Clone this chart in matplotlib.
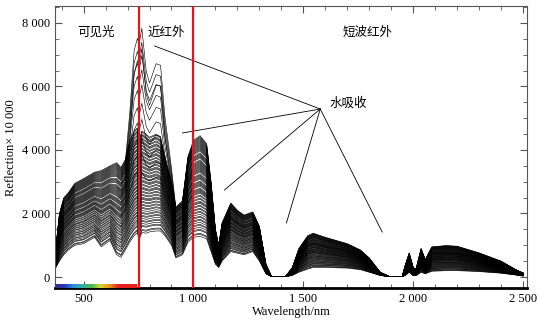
import matplotlib
matplotlib.use('Agg')
import matplotlib.pyplot as plt
import matplotlib.ticker as mticker
from matplotlib.colors import LinearSegmentedColormap
import numpy as np

plt.rcParams['font.family'] = ['Liberation Serif', 'DejaVu Serif']

# key wavelengths (nm)
wavelength = [370, 390, 410, 430, 460, 500, 550, 580, 620, 650,
              670, 690, 710, 730, 745, 752, 765, 785, 800, 830,
              850, 870, 900, 920, 950, 975, 1000, 1030, 1060, 1080,
              1100, 1115, 1130, 1170, 1200, 1230, 1270, 1300, 1330, 1355,
              1420, 1450, 1480, 1520, 1545, 1600, 1700, 1760, 1800, 1850,
              1890, 1950, 1965, 1982, 2000, 2013, 2036, 2055, 2085, 2150,
              2200, 2300, 2400, 2470, 2500]

# lowest spectrum of the bundle
low_curve = [250, 500, 700, 850, 1000, 1050, 1250, 950, 1150, 700,
             620, 850, 1100, 1300, 1400, 1150, 1400, 1380, 1420, 1450,
             1450, 1300, 1000, 600, 700, 1100, 1250, 1280, 1200, 800,
             400, 300, 500, 800, 750, 700, 800, 500, 100, 10,
             10, 50, 150, 250, 300, 300, 280, 230, 150, 50,
             10, 10, 50, 150, 40, 40, 150, 100, 180, 200,
             200, 170, 120, 60, 30]

# top of the dense bundle
top_curve = [700, 2000, 2500, 2650, 2950, 3100, 3300, 3350, 3500, 3600,
             3450, 3700, 4300, 4600, 4700, 4300, 4600, 4500, 4400, 4500,
             4400, 3800, 3000, 2200, 2400, 3800, 4300, 4450, 4200, 3000,
             1500, 1000, 1700, 2330, 2100, 1950, 2050, 1600, 400, 20,
             20, 300, 900, 1300, 1380, 1250, 1050, 850, 600, 150,
             20, 20, 400, 760, 300, 250, 900, 550, 950, 990,
             970, 760, 500, 220, 130]

# extra height of the few tallest spectra in the near infrared
nir_peak_extra = [0, 0, 0, 0, 0, 0, 0, 0, 0, 0,
                  0, 0, 1000, 2800, 3100, 3300, 3550, 2200, 1900, 2450,
                  2500, 1400, 500, 0, 0, 0, 0, 0, 0, 0,
                  0, 0, 0, 0, 0, 0, 0, 0, 0, 0,
                  0, 0, 0, 0, 0, 0, 0, 0, 0, 0,
                  0, 0, 0, 0, 0, 0, 0, 0, 0, 0,
                  0, 0, 0, 0, 0]

# position of each sample inside the bundle, and its near-infrared boost
sample_level = [0.00, 0.02, 0.03, 0.06, 0.07, 0.09, 0.11, 0.12, 0.14, 0.16,
                0.17, 0.19, 0.20, 0.22, 0.24, 0.25, 0.27, 0.28, 0.30, 0.31,
                0.33, 0.34, 0.35, 0.37, 0.38, 0.40, 0.41, 0.43, 0.44, 0.45,
                0.47, 0.48, 0.50, 0.51, 0.52, 0.54, 0.55, 0.57, 0.58, 0.59,
                0.61, 0.62, 0.64, 0.65, 0.66, 0.68, 0.69, 0.71, 0.72, 0.73,
                0.75, 0.76, 0.78, 0.79, 0.80, 0.82, 0.83, 0.85, 0.86, 0.88,
                0.89, 0.90, 0.92, 0.93, 0.95, 0.96, 0.97, 0.99, 1.00, 0.46,
                0.53, 0.60, 0.67, 0.74, 0.81, 0.87, 0.91, 0.94, 0.98, 0.70]
sample_boost = [0, 0, 0, 0, 0, 0, 0, 0, 0, 0,
                0, 0, 0, 0, 0, 0, 0, 0, 0, 0,
                0, 0, 0, 0, 0, 0, 0, 0, 0, 0,
                0, 0, 0, 0, 0, 0, 0, 0, 0, 0,
                0, 0, 0, 0, 0, 0, 0, 0, 0, 0,
                0, 0, 0, 0, 0, 0, 0, 0, 0, 0,
                0, 0, 0, 0, 0, 0, 0, 0, 0, 0.12,
                0.22, 0.30, 0.40, 0.48, 0.58, 0.66, 0.75, 0.84, 0.93, 1.00]

band_edges = [750, 1000]
band_labels = ['可见光', '近红外', '短波红外']
band_label_x = [555, 877, 1791]
water_apex = (1577, 5290)
water_targets_wl = [823, 950, 1141, 1423, 1859]
water_targets_refl = [7276, 4535, 2740, 1700, 1417]

fig = plt.figure(figsize=(5.45, 3.23), dpi=100)
ax = fig.add_axes([0.101, 0.108, 0.866, 0.873])

wl = np.array(wavelength)
low = np.array(low_curve)
top = np.array(top_curve)
extra = np.array(nir_peak_extra)
for lev, boost in zip(sample_level, sample_boost):
    spec = low + lev * (top - low) + boost * extra
    ax.plot(wl, spec, color='black', lw=0.42)

for edge in band_edges:
    ax.axvline(edge, color='#e8141b', lw=1.6, zorder=5)

# visible-light colour strip along the bottom axis
rainbow = LinearSegmentedColormap.from_list(
    'vis', ['#3a2a8a', '#2336b8', '#2a8fd8', '#35b0a0', '#46b848',
            '#d8d830', '#f09020', '#e52222', '#e52222', '#e52222'])
grad = np.linspace(0, 1, 256).reshape(1, -1)
ax.imshow(grad, cmap=rainbow, aspect='auto',
          extent=[370, 740, 0, 0.011], transform=ax.get_xaxis_transform(),
          zorder=6, clip_on=False)

for lab, x in zip(band_labels, band_label_x):
    ax.text(x, 7700, lab, ha='center', va='center', fontsize=9,
            family=['Noto Sans CJK SC'])
ax.text(1618, 5480, '水吸收', ha='left', va='center', fontsize=9,
        family=['Noto Sans CJK SC'])
for tx, ty in zip(water_targets_wl, water_targets_refl):
    ax.plot([water_apex[0], tx], [water_apex[1], ty], color='black', lw=0.6)

ax.set_xlim(370, 2518)
ax.set_ylim(-350, 8530)
ax.xaxis.set_major_locator(mticker.MultipleLocator(500))
ax.xaxis.set_minor_locator(mticker.MultipleLocator(100))
ax.yaxis.set_major_locator(mticker.MultipleLocator(2000))
ax.yaxis.set_minor_locator(mticker.MultipleLocator(500))
fmt = mticker.FuncFormatter(lambda v, p: f'{v:,.0f}'.replace(',', ' '))
ax.xaxis.set_major_formatter(fmt)
ax.yaxis.set_major_formatter(fmt)
ax.tick_params(which='both', direction='in', top=True, right=True,
               labelsize=9, color='#555555')
ax.tick_params(which='major', length=5)
ax.tick_params(which='minor', length=3)
for side in ['left', 'right', 'top']:
    ax.spines[side].set_color('#555555')
    ax.spines[side].set_linewidth(0.8)
ax.spines['bottom'].set_linewidth(2)

ax.set_xlabel('Wavelength/nm', fontsize=9, labelpad=1)
ax.set_ylabel('Reflection× 10 000', fontsize=9, labelpad=4)

fig.savefig('out.png', dpi=100)
